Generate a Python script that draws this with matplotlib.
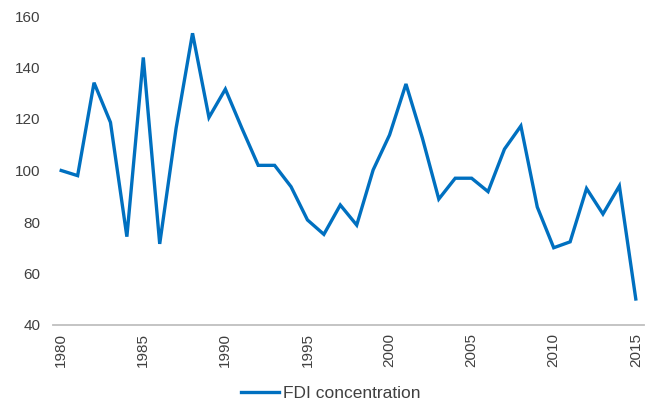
import numpy as np
import matplotlib.pyplot as plt

years = list(range(1980, 2016))
fdi = [100, 98, 134.1, 118.7, 74.3, 143.9, 71.5, 116.5, 153.3, 120.6,
       131.6, 116.5, 102, 102, 93.7, 80.8, 75.2, 86.6, 78.8, 100.2,
       113.8, 133.6, 112.6, 88.9, 97, 97, 91.8, 108.3, 117.3, 85.8,
       70, 72.3, 93, 83.1, 94, 50.1]
tick_years = [1980, 1985, 1990, 1995, 2000, 2005, 2010, 2015]
y_ticks = [40, 60, 80, 100, 120, 140, 160]

plt.rcParams['font.family'] = ['Liberation Sans', 'DejaVu Sans']

fig = plt.figure(figsize=(6.49, 4.00), dpi=100)
ax = fig.add_axes([53 / 649, 75 / 400, 591 / 649, 309 / 400])

x = np.arange(len(years))
ax.plot(x, fdi, color='#0070C0', lw=2.4, solid_joinstyle='miter',
        label='FDI concentration')

ax.set_xlim(-0.5, len(years) - 0.5)
ax.set_ylim(40, 160)
ax.set_yticks(y_ticks)
ax.set_xticks([years.index(y) for y in tick_years])
ax.set_xticklabels([str(y) for y in tick_years], rotation=90)

for side in ['top', 'right', 'left']:
    ax.spines[side].set_visible(False)
ax.spines['bottom'].set_color('#bfbfbf')
ax.spines['bottom'].set_linewidth(1.3)
ax.tick_params(axis='both', length=0, labelsize=11, labelcolor='#404040')
ax.tick_params(axis='x', pad=6)
ax.tick_params(axis='y', pad=9)

ax.legend(loc='center', bbox_to_anchor=(0.47, -0.222), frameon=False,
          fontsize=12.5, handlelength=2.2, handletextpad=0.2,
          labelcolor='#404040')

fig.savefig('out.png', dpi=100)
